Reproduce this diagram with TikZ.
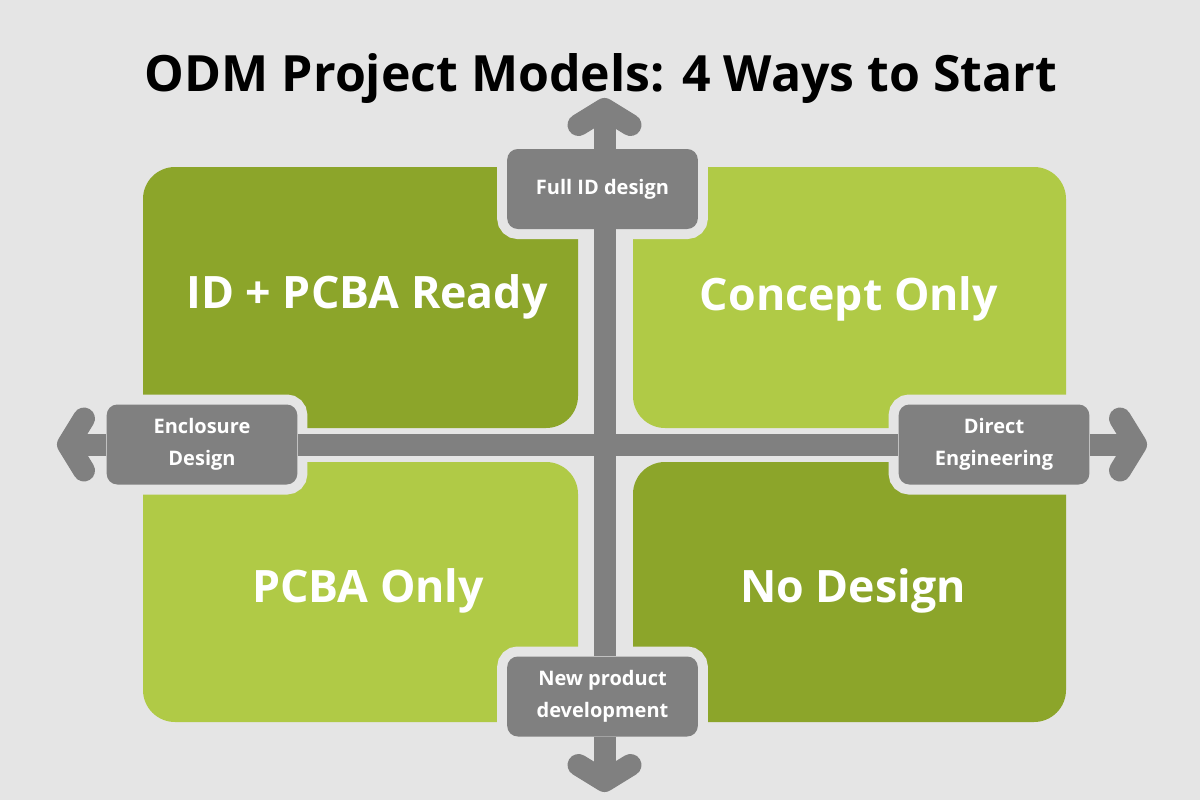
\documentclass[tikz,border=0pt]{standalone}
\usepackage{fontspec}
\setmainfont{Open Sans}
\usetikzlibrary{calc}
\definecolor{bg}{HTML}{E5E5E5}
\definecolor{dkgreen}{HTML}{8CA52A}
\definecolor{ltgreen}{HTML}{B0CA46}
\definecolor{axisgray}{HTML}{808080}
\tikzset{
  quad/.style={rounded corners=24pt},
  quadtext/.style={text=white, font=\bfseries\fontsize{33.5}{40}\selectfont, anchor=base},
  labelbox/.style={fill=axisgray, rounded corners=8pt, text=white, align=center,
    font=\bfseries\fontsize{15}{24}\selectfont, inner sep=0pt,
    minimum width=143pt, minimum height=60pt,
    preaction={draw=bg, line width=15pt}},
  axisline/.style={draw=axisgray, line width=16.5pt},
  chevron/.style={draw=axisgray, line width=16.5pt, line cap=round, line join=round}
}
\begin{document}
\begin{tikzpicture}[x=0.75pt,y=-0.75pt]
\useasboundingbox[fill=bg] (0,0) rectangle (1200,800);

% title
\node[anchor=base, font=\bfseries\fontsize{37.5}{44}\selectfont] (title) at (601,91) {ODM Project Models: 4 Ways to Start};

% quadrants
\fill[dkgreen, quad] (143,167) rectangle (578,428);
\fill[ltgreen, quad] (633,167) rectangle (1066,428);
\fill[ltgreen, quad] (143,462) rectangle (578,722);
\fill[dkgreen, quad] (633,462) rectangle (1066,722);

\node[quadtext] (q1) at (367,308) {ID + PCBA Ready};
\node[quadtext] (q2) at (849,310) {Concept Only};
\node[quadtext] (q3) at (368,602) {PCBA Only};
\node[quadtext] (q4) at (853,602) {No Design};

% label boxes
\node[labelbox] (full) at (602.5,189) {Full ID design};
\node[labelbox] (encl) at (202,444.5) {Enclosure\\Design};
\node[labelbox] (direct) at (994,444.5) {Direct\\Engineering};
\node[labelbox] (newp) at (602.5,696.5) {New product\\development};

% arrow tips
\coordinate (topTip) at (604.5,109);
\coordinate (botTip) at (604.5,781);
\coordinate (leftTip) at (68,444.5);
\coordinate (rightTip) at (1136,444.5);

% axes
\draw[axisline] (full.north -| topTip) -- (topTip);
\draw[axisline] (full.south -| topTip) -- (newp.north -| topTip);
\draw[axisline] (newp.south -| botTip) -- (botTip);
\draw[axisline] (encl.west |- leftTip) -- (leftTip);
\draw[axisline] (encl.east |- leftTip) -- (direct.west |- rightTip);
\draw[axisline] (direct.east |- rightTip) -- (rightTip);

% chevrons
\draw[chevron] ($(topTip)+(-26,16)$) -- (topTip) -- ($(topTip)+(26,16)$);
\draw[chevron] ($(botTip)+(-26,-16)$) -- (botTip) -- ($(botTip)+(26,-16)$);
\draw[chevron] ($(leftTip)+(16,-26)$) -- (leftTip) -- ($(leftTip)+(16,26)$);
\draw[chevron] ($(rightTip)+(-16,-26)$) -- (rightTip) -- ($(rightTip)+(-16,26)$);
\end{tikzpicture}
\end{document}
